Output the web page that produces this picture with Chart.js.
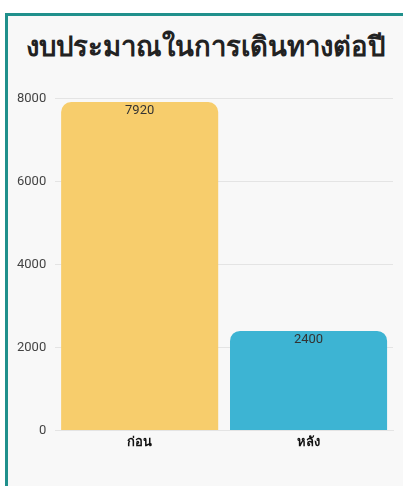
<!DOCTYPE html>
<html>
<head>
<meta charset="utf-8">
<script src="https://cdn.jsdelivr.net/npm/chart.js@4.4.0/dist/chart.umd.min.js"></script>
<style>
  body { margin: 0; background: #fff; width: 403px; height: 486px; overflow: hidden; position: relative; }
  .card {
    position: absolute; left: 5px; top: 13px; width: 430px; height: 500px;
    border: 3px solid #20908c; border-right: none; background: #f8f8f8;
  }
  .title {
    position: absolute; left: 0; top: 8px; width: 395px; text-align: center;
    font-family: "Noto Sans", sans-serif; font-weight: bold; font-size: 27.5px; color: #222;
  }
  .chart-box { position: absolute; left: 0; top: 66px; width: 395px; height: 372px; }
</style>
</head>
<body>
<div class="card">
  <div class="title">งบประมาณในการเดินทางต่อปี</div>
  <div class="chart-box"><canvas id="myChart"></canvas></div>
</div>
<script>
// data
const categories = ['ก่อน', 'หลัง'];
const budget = [7920, 2400];
const barColors = ['#f7cd6c', '#3db4d3'];

// value label at the top, inside each bar
const valueLabels = {
    id: 'valueLabels',
    afterDatasetsDraw(chart) {
        const ctx = chart.ctx;
        ctx.save();
        ctx.font = '13px Roboto, sans-serif';
        ctx.fillStyle = '#333';
        ctx.textAlign = 'center';
        ctx.textBaseline = 'top';
        chart.getDatasetMeta(0).data.forEach((bar, i) => {
            ctx.fillText(budget[i], bar.x, bar.y + 2);
        });
        ctx.restore();
    }
};

const ctx = document.getElementById('myChart').getContext('2d');
const myChart = new Chart(ctx, {
    type: 'bar',
    data: {
        labels: categories,
        datasets: [{
            data: budget,
            backgroundColor: barColors,
            borderRadius: { topLeft: 10, topRight: 10 },
            borderSkipped: 'bottom',
            barPercentage: 0.93,
            categoryPercentage: 1.0,
        }]
    },
    options: {
        maintainAspectRatio: false,
        animation: false,
        layout: { padding: { top: 12, right: 10, left: 0, bottom: 0 } },
        plugins: {
            legend: { display: false },
            tooltip: { enabled: false }
        },
        scales: {
            y: {
                beginAtZero: true,
                max: 8000,
                ticks: {
                    stepSize: 2000, color: '#444', padding: 9,
                    font: { size: 13, family: 'Roboto' },
                    callback: v => String(v)
                },
                grid: { color: '#e4e4e4', drawTicks: false },
                border: { display: false }
            },
            x: {
                ticks: { color: '#111', padding: 4, font: { size: 13, weight: 'bold', family: 'Noto Sans' } },
                grid: { display: false, drawTicks: false },
                border: { color: '#e4e4e4' }
            }
        }
    },
    plugins: [valueLabels]
});
</script>
</body>
</html>
